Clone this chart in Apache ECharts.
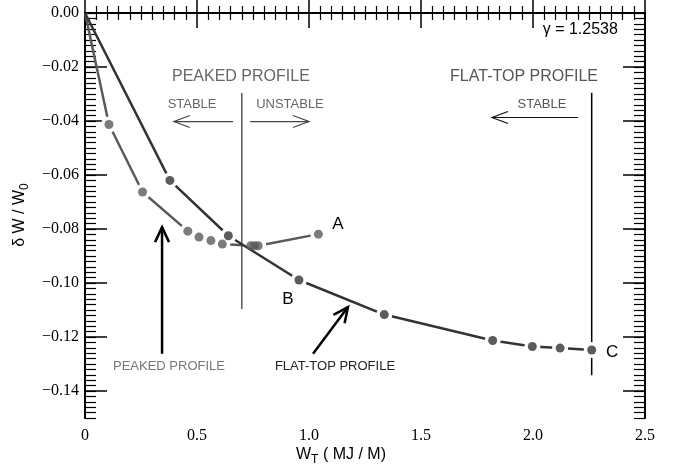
<!DOCTYPE html>
<html><head><meta charset="utf-8">
<script src="https://cdn.jsdelivr.net/npm/echarts@6/dist/echarts.min.js"></script>
<style>html,body{margin:0;padding:0;background:#fff}#c{width:678px;height:470px}</style>
</head><body><div id="c"></div>
<script>
// ---- data ----
const peakedX = [0, 0.107, 0.257, 0.459, 0.509, 0.562, 0.613, 0.740, 0.757, 0.773, 1.042];
const peakedY = [0, -0.0413, -0.0663, -0.0808, -0.0830, -0.0843, -0.0856, -0.0862, -0.0862, -0.0862, -0.0819];
const flatX = [0, 0.379, 0.640, 0.955, 1.336, 1.820, 1.997, 2.121, 2.262];
const flatY = [0, -0.0620, -0.0825, -0.0989, -0.1117, -0.1213, -0.1235, -0.1241, -0.1248];
const peakedLimitX = [0.70, 0.70];
const peakedLimitY = [-0.0296, -0.1096];
const flatLimitX = [2.262, 2.262];
const flatLimitY = [-0.0295, -0.1342];
const yMajorTicks = [0, -0.02, -0.04, -0.06, -0.08, -0.10, -0.12, -0.14];
const xTickLabels = ['0', '0.5', '1.0', '1.5', '2.0', '2.5'];

const zip = (xs, ys) => xs.map((x, i) => [x, ys[i]]);
const withOrigin = (pts) => pts.map((p, i) => i === 0 ? {value: p, symbol: 'none'} : p);

const chart = echarts.init(document.getElementById('c'));
const tickFont = {fontFamily: '"Liberation Serif", "DejaVu Serif", serif', fontSize: 16, color: '#000'};
const grid = {left: 85, right: 33, top: 13, bottom: 52};

function xAx(pos) {
  return {
    type: 'value', position: pos, min: 0, max: 2.5, interval: 0.5,
    axisLine: {show: true, lineStyle: {color: '#000', width: 2}},
    axisTick: {show: true, inside: true, length: 15, lineStyle: {color: '#000', width: 1.5}},
    minorTick: {show: true, splitNumber: 10, length: 7, lineStyle: {color: '#000', width: 1.2}},
    splitLine: {show: false}, minorSplitLine: {show: false},
    axisLabel: pos === 'bottom' ? Object.assign({show: true, margin: 10,
      formatter: (v) => xTickLabels[Math.round(v / 0.5)]}, tickFont) : {show: false}
  };
}
function yMinor(pos) {
  return {
    type: 'value', position: pos, min: -0.15, max: 0, interval: 0.002,
    axisLine: {show: true, lineStyle: {color: '#000', width: 2}},
    axisTick: {show: true, inside: true, length: 11, lineStyle: {color: '#000', width: 1.2}},
    axisLabel: {show: false}, splitLine: {show: false}
  };
}
function yMajor(pos) {
  return {
    type: 'value', position: pos, min: -0.15, max: 0,
    axisLine: {show: false},
    axisTick: {show: true, inside: true, length: 22, customValues: yMajorTicks, lineStyle: {color: '#000', width: 1.5}},
    axisLabel: pos === 'left' ? Object.assign({show: true, margin: 6, customValues: yMajorTicks,
      formatter: (v) => (v < 0 ? '\u2212' : '') + Math.abs(v).toFixed(2)}, tickFont) : {show: false},
    splitLine: {show: false}
  };
}

const peakedPts = zip(peakedX, peakedY);
const flatPts = zip(flatX, flatY);

chart.setOption({
  animation: false,
  backgroundColor: '#fff',
  grid: grid,
  xAxis: [xAx('bottom'), xAx('top')],
  yAxis: [yMinor('left'), yMajor('left'), yMinor('right'), yMajor('right')],
  series: [
    {type: 'line', xAxisIndex: 0, yAxisIndex: 0, data: zip(peakedLimitX, peakedLimitY), symbol: 'none',
     lineStyle: {color: '#555', width: 1.5}, z: 1},
    {type: 'line', xAxisIndex: 0, yAxisIndex: 0, data: zip(flatLimitX, flatLimitY), symbol: 'none',
     lineStyle: {color: '#000', width: 1.5}, z: 1},
    // lines with white halos at the points
    {type: 'line', xAxisIndex: 0, yAxisIndex: 0, data: withOrigin(peakedPts),
     symbol: 'circle', symbolSize: 16, showAllSymbol: true,
     lineStyle: {color: '#5a5a5a', width: 2.5},
     itemStyle: {color: '#fff', borderWidth: 0}, z: 2},
    {type: 'line', xAxisIndex: 0, yAxisIndex: 0, data: withOrigin(flatPts),
     symbol: 'circle', symbolSize: 16, showAllSymbol: true,
     lineStyle: {color: '#333', width: 2.5},
     itemStyle: {color: '#fff', borderWidth: 0}, z: 3},
    // markers
    {type: 'scatter', xAxisIndex: 0, yAxisIndex: 0, data: peakedPts.slice(1),
     symbol: 'circle', symbolSize: 9, itemStyle: {color: '#5a5a5a'}, z: 4},
    {type: 'scatter', xAxisIndex: 0, yAxisIndex: 0, data: flatPts.slice(1),
     symbol: 'circle', symbolSize: 9, itemStyle: {color: '#333'}, z: 5}
  ]
});

// ---- annotations (data coordinates converted to pixels) ----
const P = (x, y) => chart.convertToPixel({xAxisIndex: 0, yAxisIndex: 0}, [x, y]);
const sans = 'Liberation Sans';
function txt(x, y, s, size, color, align) {
  const p = P(x, y);
  return {type: 'text', x: p[0], y: p[1], z: 10,
    style: {text: s, font: size + 'px "' + sans + '"', fill: color, align: align || 'center', verticalAlign: 'middle'}};
}
function arrow(x1, y1, x2, y2, hl, hw, color, w) {
  const a = P(x1, y1), b = P(x2, y2);
  const dx = b[0] - a[0], dy = b[1] - a[1], L = Math.hypot(dx, dy);
  const ux = dx / L, uy = dy / L, nx = -uy, ny = ux;
  const h1 = [b[0] - ux * hl + nx * hw, b[1] - uy * hl + ny * hw];
  const h2 = [b[0] - ux * hl - nx * hw, b[1] - uy * hl - ny * hw];
  return [
    {type: 'polyline', z: 10, shape: {points: [a, b]}, style: {stroke: color, lineWidth: w, fill: null}},
    {type: 'polyline', z: 10, shape: {points: [h1, b, h2]}, style: {stroke: color, lineWidth: w, fill: null}}
  ];
}
const g = [];
g.push(txt(2.379, -0.0063, '\u03b3 = 1.2538', 16, '#000', 'right'));
g.push(txt(0.696, -0.0236, 'PEAKED PROFILE', 16, '#666'));
g.push(txt(0.478, -0.0339, 'STABLE', 13, '#666'));
g.push(txt(0.915, -0.0339, 'UNSTABLE', 13, '#666'));
g.push(...arrow(0.661, -0.0402, 0.397, -0.0402, 16, 6, '#444', 1.2));
g.push(...arrow(0.737, -0.0402, 1.000, -0.0402, 16, 6, '#444', 1.2));
g.push(txt(1.960, -0.0236, 'FLAT-TOP PROFILE', 16, '#555'));
g.push(txt(2.040, -0.0339, 'STABLE', 13, '#555'));
g.push(...arrow(2.201, -0.0387, 1.817, -0.0387, 16, 6, '#111', 1.2));
g.push(txt(1.129, -0.0782, 'A', 17, '#000'));
g.push(txt(0.906, -0.1059, 'B', 17, '#000'));
g.push(txt(2.353, -0.1255, 'C', 17, '#000'));
g.push(txt(0.375, -0.1310, 'PEAKED PROFILE', 13, '#777'));
g.push(txt(1.116, -0.1310, 'FLAT-TOP PROFILE', 13, '#222'));
g.push(...arrow(0.344, -0.1262, 0.344, -0.0793, 15, 7, '#000', 2.5));
g.push(...arrow(1.018, -0.1262, 1.174, -0.1089, 15, 7, '#000', 2.5));
// axis titles
g.push({type: 'text', x: 341, y: 455, z: 10, style: {
  text: 'W{sub|T} ( MJ / M)', font: '16px "' + sans + '"', fill: '#000', align: 'center', verticalAlign: 'middle',
  rich: {sub: {fontSize: 12, fontFamily: sans, padding: [10, 0, 0, 0]}}}});
g.push({type: 'text', x: 20, y: 215, rotation: Math.PI / 2, z: 10, style: {
  text: '\u03b4 W / W{sub|0}', font: '16px "' + sans + '"', fill: '#000', align: 'center', verticalAlign: 'middle',
  rich: {sub: {fontSize: 12, fontFamily: sans, padding: [10, 0, 0, 0]}}}});
chart.setOption({graphic: g});
</script></body></html>
